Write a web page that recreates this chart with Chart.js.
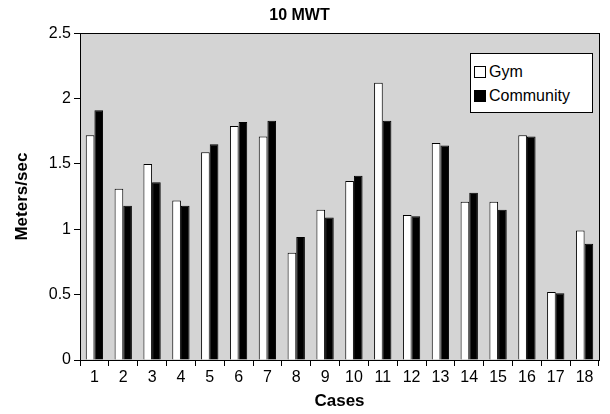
<!DOCTYPE html>
<html>
<head>
<meta charset="utf-8">
<script src="https://cdn.jsdelivr.net/npm/chart.js@4/dist/chart.umd.min.js"></script>
<style>
  html, body { margin: 0; padding: 0; background: #fff; }
  #wrap { position: relative; width: 610px; height: 414px; }
  #legend {
    position: absolute; left: 470px; top: 53px; width: 121px; height: 58px;
    border: 1px solid #000; background: #fff;
    font-family: "Liberation Sans", Arial, sans-serif; font-size: 16px; color: #000;
  }
  #legend div { position: absolute; left: 3px; height: 18px; line-height: 18px; }
  #legend span.box { display: inline-block; width: 10px; height: 10px; border: 1px solid #000; margin-right: 3px; vertical-align: -1px; }
</style>
</head>
<body>
<div id="wrap">
  <canvas id="grafica" width="610" height="414"></canvas>
  <div id="legend">
    <div style="top:9px"><span class="box" style="background:#fff"></span>Gym</div>
    <div style="top:33px"><span class="box" style="background:#000"></span>Community</div>
  </div>
</div>
<script>
// Datos: velocidad de marcha 10 MWT por caso
const casos = ['1','2','3','4','5','6','7','8','9','10','11','12','13','14','15','16','17','18'];
const gym = [1.72, 1.31, 1.50, 1.22, 1.59, 1.79, 1.71, 0.82, 1.15, 1.37, 2.12, 1.11, 1.66, 1.21, 1.21, 1.72, 0.52, 0.99];
const community = [1.91, 1.18, 1.36, 1.18, 1.65, 1.82, 1.83, 0.94, 1.09, 1.41, 1.83, 1.10, 1.64, 1.28, 1.15, 1.71, 0.51, 0.89];
const ticksY = [0, 0.5, 1, 1.5, 2, 2.5];

const fuente = '"Liberation Sans", Arial, sans-serif';

// Fondo gris y marco del area de trazado
const fondo = {
  id: 'fondo',
  beforeDraw(chart) {
    const { ctx, chartArea: a } = chart;
    ctx.save();
    ctx.fillStyle = '#d4d4d4';
    ctx.fillRect(a.left, a.top, a.right - a.left, a.bottom - a.top);
    ctx.restore();
  },
  afterDatasetsDraw(chart) {
    const { ctx, chartArea: a } = chart;
    ctx.save();
    ctx.strokeStyle = '#000';
    ctx.lineWidth = 1;
    ctx.strokeRect(Math.round(a.left) + 0.5, Math.round(a.top) + 0.5, Math.round(a.right - a.left), Math.round(a.bottom - a.top));
    ctx.restore();
  }
};

new Chart(document.getElementById('grafica').getContext('2d'), {
  type: 'bar',
  data: {
    labels: casos,
    datasets: [
      { label: 'Gym', data: gym, backgroundColor: '#ffffff', borderColor: '#000', borderWidth: 1 },
      { label: 'Community', data: community, backgroundColor: '#000000', borderColor: '#000', borderWidth: 1 }
    ]
  },
  plugins: [fondo],
  options: {
    responsive: false,
    animation: false,
    layout: { padding: { left: 0, right: 11, top: 0, bottom: 2 } },
    datasets: { bar: { categoryPercentage: 0.6, barPercentage: 1.0 } },
    plugins: {
      legend: { display: false },
      tooltip: { enabled: false },
      title: {
        display: true, text: '10 MWT', color: '#000',
        font: { family: fuente, size: 16, weight: 'bold' },
        padding: { top: 6, bottom: 8 }
      }
    },
    scales: {
      x: {
        grid: { display: true, offset: true, drawOnChartArea: false, drawTicks: true, tickLength: 6, color: '#000' },
        border: { display: true, color: '#000' },
        ticks: { color: '#000', font: { family: fuente, size: 16 }, padding: 2, maxRotation: 0, autoSkip: false },
        title: { display: true, text: 'Cases', color: '#000', font: { family: fuente, size: 17, weight: 'bold' }, padding: 0 },
        afterFit: s => { s.height = 52; }
      },
      y: {
        min: 0, max: 2.5,
        afterBuildTicks: s => { s.ticks = ticksY.map(v => ({ value: v })); },
        grid: { display: true, drawOnChartArea: false, drawTicks: true, tickLength: 6, color: '#000' },
        border: { display: true, color: '#000' },
        ticks: { color: '#000', font: { family: fuente, size: 16 }, padding: 3, callback: v => String(v) },
        title: { display: true, text: 'Meters/sec', color: '#000', font: { family: fuente, size: 17, weight: 'bold' }, padding: { top: 12, bottom: 4 } },
        afterFit: s => { s.width = 80; }
      }
    }
  }
});
</script>
</body>
</html>
